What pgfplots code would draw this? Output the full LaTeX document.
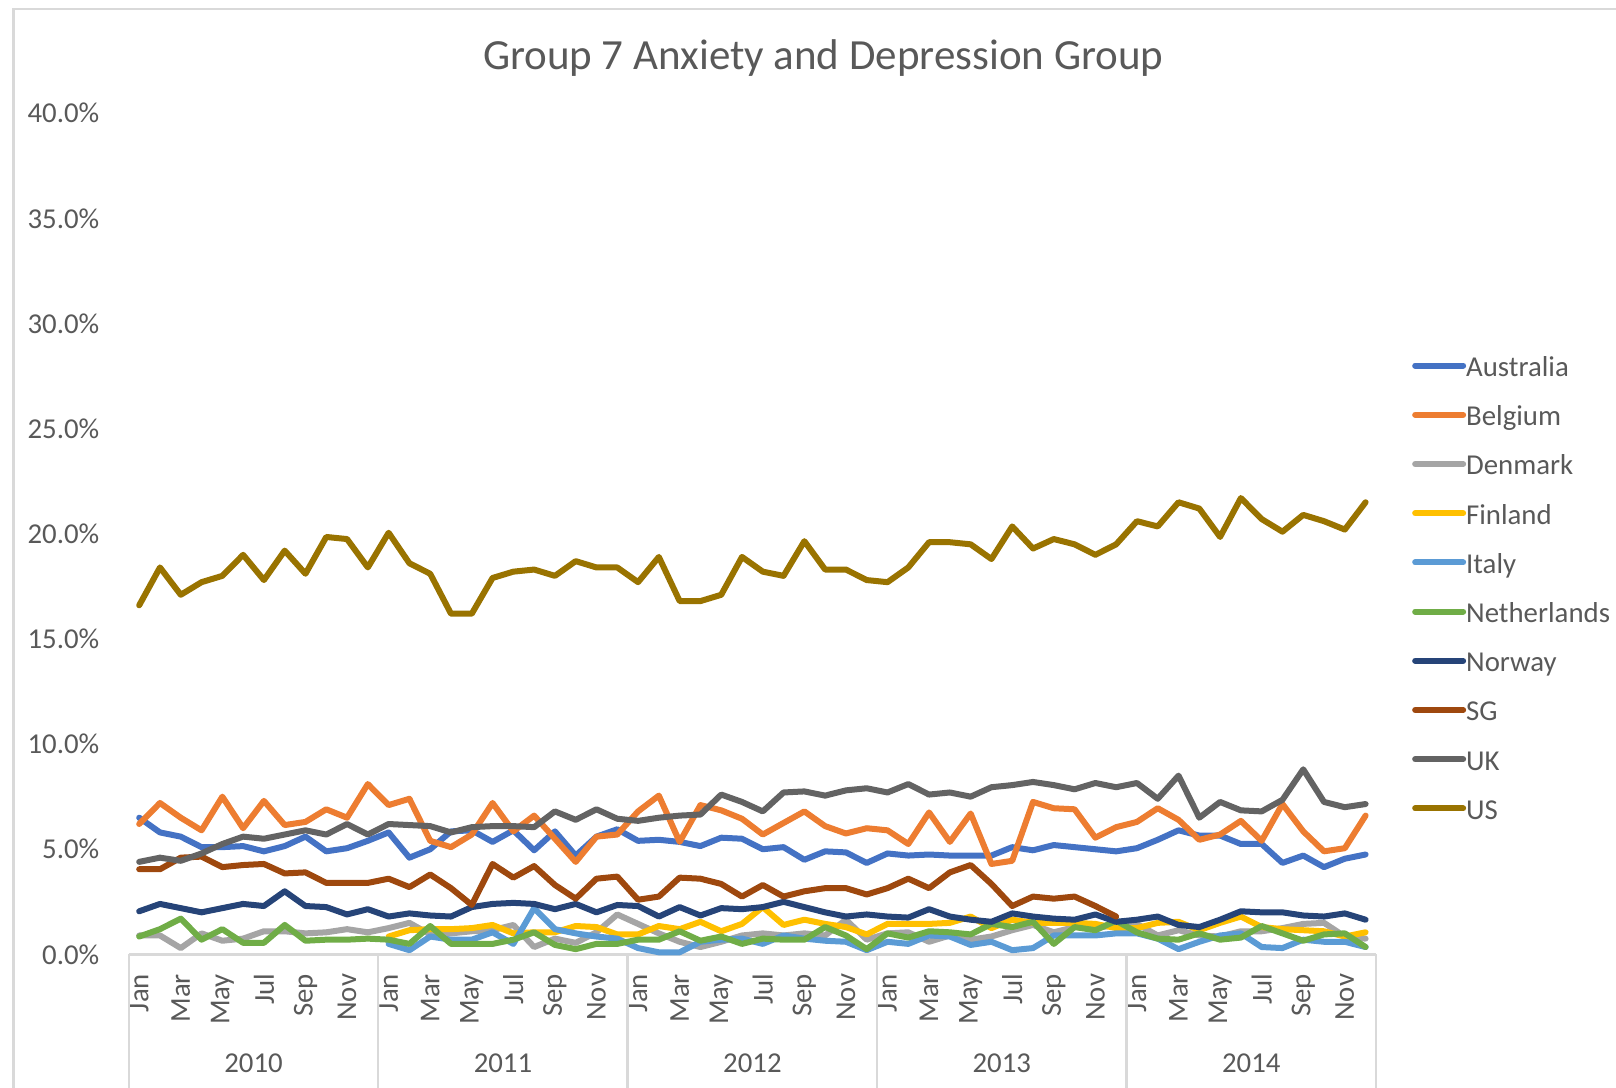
\documentclass[border=0pt]{standalone}
\usepackage{fontspec}
\setmainfont{Carlito}
\usepackage{pgfplots}
\pgfplotsset{compat=1.18}

\definecolor{cAus}{HTML}{4472C4}
\definecolor{cBel}{HTML}{ED7D31}
\definecolor{cDen}{HTML}{A5A5A5}
\definecolor{cFin}{HTML}{FFC000}
\definecolor{cIta}{HTML}{5B9BD5}
\definecolor{cNet}{HTML}{70AD47}
\definecolor{cNor}{HTML}{264478}
\definecolor{cSG}{HTML}{9E480E}
\definecolor{cUK}{HTML}{636363}
\definecolor{cUS}{HTML}{997300}
\definecolor{txtgray}{HTML}{595959}
\definecolor{linegray}{HTML}{D9D9D9}

\newcommand{\lblfont}{\fontsize{7.2bp}{8.6bp}\selectfont}

\begin{document}
\begin{tikzpicture}
\path[use as bounding box] (0,0) rectangle (404bp,272bp);
% chart frame (only top and left edges visible in the crop)
\draw[linegray, line width=0.6bp] (3.4bp,0) -- (3.4bp,269.8bp) -- (404bp,269.8bp);

\begin{axis}[
    at={(32.2bp,33.4bp)}, anchor=south west,
    width=311.8bp, height=210.3bp, scale only axis,
    xmin=-0.5, xmax=59.5, ymin=0, ymax=40,
    axis x line*=bottom, axis y line*=left,
    x axis line style={draw=linegray, line width=0.6bp, -},
    y axis line style={draw=none},
    tick style={draw=none}, major tick length=0pt,
    xtick={0,2,...,58},
    xticklabels={Jan,Mar,May,Jul,Sep,Nov,Jan,Mar,May,Jul,Sep,Nov,Jan,Mar,May,Jul,Sep,Nov,Jan,Mar,May,Jul,Sep,Nov,Jan,Mar,May,Jul,Sep,Nov},
    x tick label style={rotate=90, anchor=east, inner sep=0pt},
    xticklabel shift=4.7bp,
    ytick={0,5,...,40},
    yticklabels={0.0\%,5.0\%,10.0\%,15.0\%,20.0\%,25.0\%,30.0\%,35.0\%,40.0\%},
    y tick label style={anchor=east, inner sep=0pt},
    yticklabel shift=7.2bp,
    tick label style={font=\lblfont, text=txtgray},
    clip=false,
    every axis plot/.append style={line width=1.5bp, line join=round, line cap=round},
    legend cell align=left,
    legend image code/.code={\draw[#1, line width=1.5bp, line cap=round] (0bp,0.9bp) -- (12bp,0.9bp);},
    legend style={draw=none, fill=none, inner sep=0pt, outer sep=0pt,
        at={(1.029,0.4325)}, anchor=west, font=\lblfont, text=txtgray,
        row sep=5.4bp,
        nodes={inner sep=0pt, text height=5.3bp, text depth=1.6bp},
        /tikz/every odd column/.append style={column sep=0pt}},
]

% Australia
\addplot[cAus] coordinates {
(0,6.5)(1,5.8)(2,5.6)(3,5.1)(4,5.1)(5,5.15)(6,4.9)(7,5.15)(8,5.6)(9,4.9)(10,5.05)(11,5.4)
(12,5.8)(13,4.6)(14,5.0)(15,5.85)(16,5.9)(17,5.35)(18,5.9)(19,4.95)(20,5.85)(21,4.7)(22,5.6)(23,5.95)
(24,5.4)(25,5.45)(26,5.35)(27,5.15)(28,5.55)(29,5.5)(30,5.0)(31,5.1)(32,4.5)(33,4.9)(34,4.85)(35,4.35)
(36,4.8)(37,4.7)(38,4.75)(39,4.7)(40,4.7)(41,4.7)(42,5.1)(43,4.95)(44,5.2)(45,5.1)(46,5.0)(47,4.9)
(48,5.05)(49,5.45)(50,5.9)(51,5.65)(52,5.65)(53,5.25)(54,5.25)(55,4.35)(56,4.7)(57,4.15)(58,4.55)(59,4.75)
};
\addlegendentry{Australia}

% Belgium
\addplot[cBel] coordinates {
(0,6.2)(1,7.2)(2,6.5)(3,5.9)(4,7.5)(5,6.0)(6,7.3)(7,6.15)(8,6.3)(9,6.9)(10,6.5)(11,8.1)
(12,7.1)(13,7.4)(14,5.4)(15,5.1)(16,5.7)(17,7.2)(18,5.85)(19,6.6)(20,5.5)(21,4.4)(22,5.6)(23,5.7)
(24,6.8)(25,7.55)(26,5.35)(27,7.1)(28,6.85)(29,6.45)(30,5.7)(31,6.25)(32,6.8)(33,6.1)(34,5.75)(35,6.0)
(36,5.9)(37,5.25)(38,6.75)(39,5.35)(40,6.7)(41,4.3)(42,4.45)(43,7.25)(44,6.95)(45,6.9)(46,5.55)(47,6.05)
(48,6.3)(49,6.95)(50,6.4)(51,5.45)(52,5.7)(53,6.35)(54,5.4)(55,7.15)(56,5.85)(57,4.9)(58,5.05)(59,6.6)
};
\addlegendentry{Belgium}

% Denmark
\addplot[cDen] coordinates {
(0,0.9)(1,0.9)(2,0.3)(3,1.0)(4,0.65)(5,0.75)(6,1.1)(7,1.1)(8,1.0)(9,1.05)(10,1.2)(11,1.05)
(12,1.25)(13,1.5)(14,0.95)(15,1.0)(16,1.1)(17,1.15)(18,1.4)(19,0.35)(20,0.75)(21,0.55)(22,1.05)(23,1.9)
(24,1.45)(25,1.0)(26,0.6)(27,0.35)(28,0.6)(29,0.9)(30,1.0)(31,0.9)(32,1.0)(33,0.9)(34,1.65)(35,0.7)
(36,1.0)(37,1.05)(38,0.6)(39,0.9)(40,0.7)(41,0.85)(42,1.15)(43,1.4)(44,1.05)(45,1.3)(46,1.25)(47,1.4)
(48,1.45)(49,0.9)(50,1.15)(51,0.9)(52,0.85)(53,1.1)(54,1.1)(55,1.25)(56,1.45)(57,1.5)(58,0.85)(59,0.75)
};
\addlegendentry{Denmark}

% Finland (from Jan 2011)
\addplot[cFin] coordinates {
(12,0.85)(13,1.15)(14,1.2)(15,1.2)(16,1.25)(17,1.4)(18,1.0)(19,1.05)(20,1.05)(21,1.35)(22,1.3)(23,0.95)
(24,0.95)(25,1.35)(26,1.2)(27,1.55)(28,1.1)(29,1.45)(30,2.25)(31,1.4)(32,1.65)(33,1.45)(34,1.3)(35,0.95)
(36,1.45)(37,1.45)(38,1.45)(39,1.5)(40,1.8)(41,1.25)(42,1.65)(43,1.5)(44,1.5)(45,1.5)(46,1.45)(47,1.25)
(48,1.25)(49,1.5)(50,1.55)(51,1.15)(52,1.5)(53,1.8)(54,1.3)(55,1.2)(56,1.15)(57,1.1)(58,0.85)(59,1.05)
};
\addlegendentry{Finland}

% Italy (from Jan 2011)
\addplot[cIta] coordinates {
(12,0.5)(13,0.2)(14,0.85)(15,0.7)(16,0.7)(17,1.05)(18,0.5)(19,2.2)(20,1.2)(21,1.0)(22,0.85)(23,0.75)
(24,0.3)(25,0.1)(26,0.1)(27,0.6)(28,0.7)(29,0.75)(30,0.5)(31,0.9)(32,0.75)(33,0.65)(34,0.6)(35,0.2)
(36,0.6)(37,0.5)(38,0.9)(39,0.85)(40,0.45)(41,0.6)(42,0.2)(43,0.3)(44,0.9)(45,0.9)(46,0.9)(47,1.0)
(48,1.0)(49,0.75)(50,0.25)(51,0.6)(52,0.9)(53,1.0)(54,0.35)(55,0.3)(56,0.7)(57,0.6)(58,0.6)(59,0.35)
};
\addlegendentry{Italy}

% Netherlands
\addplot[cNet] coordinates {
(0,0.85)(1,1.2)(2,1.7)(3,0.7)(4,1.2)(5,0.55)(6,0.55)(7,1.4)(8,0.65)(9,0.7)(10,0.7)(11,0.75)
(12,0.7)(13,0.5)(14,1.35)(15,0.5)(16,0.5)(17,0.5)(18,0.7)(19,1.05)(20,0.45)(21,0.25)(22,0.5)(23,0.5)
(24,0.7)(25,0.7)(26,1.1)(27,0.65)(28,0.85)(29,0.5)(30,0.75)(31,0.7)(32,0.7)(33,1.3)(34,0.9)(35,0.25)
(36,1.0)(37,0.8)(38,1.1)(39,1.05)(40,0.95)(41,1.45)(42,1.3)(43,1.55)(44,0.5)(45,1.3)(46,1.15)(47,1.6)
(48,1.05)(49,0.75)(50,0.7)(51,1.0)(52,0.7)(53,0.8)(54,1.35)(55,1.0)(56,0.65)(57,0.95)(58,1.0)(59,0.35)
};
\addlegendentry{Netherlands}

% Norway
\addplot[cNor] coordinates {
(0,2.05)(1,2.4)(2,2.2)(3,2.0)(4,2.2)(5,2.4)(6,2.3)(7,3.0)(8,2.3)(9,2.25)(10,1.9)(11,2.15)
(12,1.8)(13,1.95)(14,1.85)(15,1.8)(16,2.25)(17,2.4)(18,2.45)(19,2.4)(20,2.15)(21,2.4)(22,2.0)(23,2.35)
(24,2.3)(25,1.8)(26,2.25)(27,1.85)(28,2.2)(29,2.15)(30,2.25)(31,2.5)(32,2.25)(33,2.0)(34,1.8)(35,1.9)
(36,1.8)(37,1.75)(38,2.15)(39,1.8)(40,1.65)(41,1.55)(42,1.95)(43,1.8)(44,1.7)(45,1.65)(46,1.9)(47,1.55)
(48,1.65)(49,1.8)(50,1.4)(51,1.3)(52,1.65)(53,2.05)(54,2.0)(55,2.0)(56,1.85)(57,1.8)(58,1.95)(59,1.65)
};
\addlegendentry{Norway}

% SG (to Dec 2013)
\addplot[cSG] coordinates {
(0,4.05)(1,4.05)(2,4.6)(3,4.65)(4,4.15)(5,4.25)(6,4.3)(7,3.85)(8,3.9)(9,3.4)(10,3.4)(11,3.4)
(12,3.6)(13,3.2)(14,3.8)(15,3.15)(16,2.35)(17,4.3)(18,3.65)(19,4.2)(20,3.3)(21,2.65)(22,3.6)(23,3.7)
(24,2.6)(25,2.75)(26,3.65)(27,3.6)(28,3.35)(29,2.75)(30,3.3)(31,2.75)(32,3.0)(33,3.15)(34,3.15)(35,2.85)
(36,3.15)(37,3.6)(38,3.15)(39,3.9)(40,4.25)(41,3.35)(42,2.3)(43,2.75)(44,2.65)(45,2.75)(46,2.3)(47,1.8)
};
\addlegendentry{SG}

% UK
\addplot[cUK] coordinates {
(0,4.4)(1,4.6)(2,4.45)(3,4.8)(4,5.25)(5,5.6)(6,5.5)(7,5.7)(8,5.9)(9,5.7)(10,6.2)(11,5.7)
(12,6.2)(13,6.15)(14,6.1)(15,5.8)(16,6.05)(17,6.1)(18,6.1)(19,6.05)(20,6.8)(21,6.4)(22,6.9)(23,6.45)
(24,6.35)(25,6.5)(26,6.6)(27,6.65)(28,7.6)(29,7.25)(30,6.8)(31,7.7)(32,7.75)(33,7.55)(34,7.8)(35,7.9)
(36,7.7)(37,8.1)(38,7.6)(39,7.7)(40,7.5)(41,7.95)(42,8.05)(43,8.2)(44,8.05)(45,7.85)(46,8.15)(47,7.95)
(48,8.15)(49,7.4)(50,8.5)(51,6.5)(52,7.25)(53,6.85)(54,6.8)(55,7.35)(56,8.8)(57,7.25)(58,7.0)(59,7.15)
};
\addlegendentry{UK}

% US
\addplot[cUS] coordinates {
(0,16.6)(1,18.4)(2,17.1)(3,17.7)(4,18.0)(5,19.0)(6,17.8)(7,19.2)(8,18.1)(9,19.85)(10,19.75)(11,18.4)
(12,20.05)(13,18.6)(14,18.1)(15,16.2)(16,16.2)(17,17.9)(18,18.2)(19,18.3)(20,18.0)(21,18.7)(22,18.4)(23,18.4)
(24,17.7)(25,18.9)(26,16.8)(27,16.8)(28,17.1)(29,18.9)(30,18.2)(31,18.0)(32,19.65)(33,18.3)(34,18.3)(35,17.8)
(36,17.7)(37,18.4)(38,19.6)(39,19.6)(40,19.5)(41,18.8)(42,20.35)(43,19.3)(44,19.75)(45,19.5)(46,19.0)(47,19.5)
(48,20.6)(49,20.35)(50,21.5)(51,21.2)(52,19.85)(53,21.7)(54,20.7)(55,20.1)(56,20.9)(57,20.6)(58,20.2)(59,21.5)
};
\addlegendentry{US}

% year group separators and labels
\draw[linegray, line width=0.6bp] (axis cs:-0.5,0) -- ++(0bp,-33.4bp);
\draw[linegray, line width=0.6bp] (axis cs:11.5,0) -- ++(0bp,-33.4bp);
\draw[linegray, line width=0.6bp] (axis cs:23.5,0) -- ++(0bp,-33.4bp);
\draw[linegray, line width=0.6bp] (axis cs:35.5,0) -- ++(0bp,-33.4bp);
\draw[linegray, line width=0.6bp] (axis cs:47.5,0) -- ++(0bp,-33.4bp);
\draw[linegray, line width=0.6bp] (axis cs:59.5,0) -- ++(0bp,-33.4bp);
\node[font=\lblfont, text=txtgray, yshift=-27.3bp] at (axis cs:5.5,0) {2010};
\node[font=\lblfont, text=txtgray, yshift=-27.3bp] at (axis cs:17.5,0) {2011};
\node[font=\lblfont, text=txtgray, yshift=-27.3bp] at (axis cs:29.5,0) {2012};
\node[font=\lblfont, text=txtgray, yshift=-27.3bp] at (axis cs:41.5,0) {2013};
\node[font=\lblfont, text=txtgray, yshift=-27.3bp] at (axis cs:53.5,0) {2014};
\end{axis}

\node[font=\fontsize{10.75bp}{12bp}\selectfont, text=txtgray] at (205.8bp,257.5bp) {Group 7 Anxiety and Depression Group};
\end{tikzpicture}
\end{document}
